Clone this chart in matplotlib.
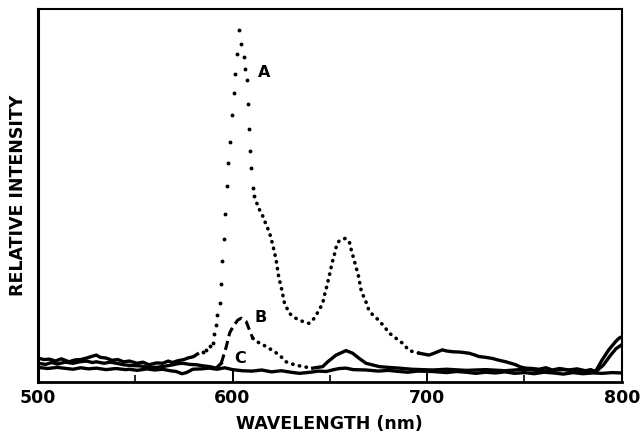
import matplotlib
matplotlib.use("Agg")
import matplotlib.pyplot as plt
from matplotlib.ticker import MultipleLocator

# curve A (relative units 0-100)
a_wl = [500, 503, 506, 509, 512, 516, 519, 522, 525, 528, 530, 532, 535, 538,
        541, 544, 547, 551, 554, 557, 561, 564, 567, 569, 572, 575, 577, 580,
        582, 584.8, 586.5, 588.2, 589.9, 590.4, 591.6, 591.9, 593.3, 594.2,
        594.7, 595.5, 596.3, 596.9, 597.9, 598.8, 599.8, 600.5, 601.2, 602.2,
        603.4, 604.2, 605.8, 606.5, 607.2, 608.1, 608.6, 609.2, 609.6, 610.3,
        610.9, 612.5, 614, 615.5, 617, 619, 620.7, 622.4, 623.7, 625.3, 626.7,
        629.2, 632, 634.4, 637, 639.5, 642, 644.5, 646.3, 647.4, 648.6, 649.8,
        651.1, 652.5, 653.7, 655.4, 658, 660, 661, 662.2, 663.4, 664.8, 666.2,
        668.2, 670, 672, 675, 678, 680.5, 684, 687.3, 690.8, 695.9, 701, 704,
        707.8, 710, 713, 717, 721.5, 724, 726.7, 730, 733.5, 737, 740.4, 743,
        745.5, 748, 750.6, 754, 757.4, 761, 764.3, 768, 772.8, 777, 781.4, 784,
        786.5, 789.9, 793.3, 796.8, 798.5, 800]
a_val = [6.4, 6.0, 6.1, 5.6, 6.2, 5.4, 5.9, 6.0, 6.4, 6.9, 7.2, 6.6, 6.4, 5.8,
         6.0, 5.4, 5.6, 5.0, 5.3, 4.6, 5.1, 5.0, 5.6, 5.2, 5.7, 6.0, 6.4, 6.8,
         7.5, 7.9, 8.6, 9.6, 10.4, 12.8, 15.3, 18.0, 21.1, 26.3,
         32.5, 38.3, 45.0, 52.6, 58.8, 64.4, 71.7, 77.5, 82.6, 87.9,
         94.4, 90.7, 87.1, 84.0, 81.0, 74.5, 67.8, 62.0, 57.5, 52.1,
         49.9, 47.9, 46.0, 44.5, 42.5, 40.0, 36.7, 32.7, 28.2, 24.7, 21.1,
         18.4, 17.2, 16.6, 16.0, 15.7, 17.1, 19.3, 21.1, 23.6, 26.0, 28.7,
         31.8, 34.5, 37.2, 38.1, 38.5, 37.6, 35.4, 33.2, 30.9, 28.2, 24.2,
         22.0, 19.3, 18.0, 16.6, 14.8, 13.1, 11.7, 10.4, 8.4, 7.7, 7.2, 7.8,
         8.6, 8.3, 8.1, 8.0, 7.7, 7.3, 6.8, 6.6, 6.3, 5.8, 5.4, 5.0,
         4.6, 4.0, 3.7, 3.6, 3.4, 3.8, 3.2, 3.6, 3.2, 3.5, 3.0, 3.3,
         2.8, 5.9, 8.6, 10.8, 11.7, 12.1]

# curve B
b_wl = [500, 504, 507, 510, 514, 518, 521.5, 525, 528, 530, 534, 537, 540.4,
        544, 548, 552.3, 556, 560.9, 565, 569.4, 572, 574.5, 578, 581.4, 585,
        588.2, 591.6, 594.2, 596.8, 598.5, 600.2, 602.7, 604.5, 607.0, 608.7,
        610.4, 613.8, 617.3, 621.5, 624.1, 627.5, 631.8, 636.1, 641.2, 646.3,
        648.9, 653.2, 658.3, 661.7, 665.1, 668.6, 675.4, 680, 685.6, 692,
        702.7, 710, 720, 730, 740, 750, 760, 770, 780, 787, 790.5, 794, 797, 800]
b_val = [5.0, 4.7, 5.2, 4.8, 5.3, 5.0, 5.4, 5.6, 5.2, 5.4, 5.0, 5.3, 5.0,
         4.6, 4.4, 4.3, 4.0, 3.9, 4.2, 4.6, 4.9, 5.0, 4.7, 4.6, 4.3,
         4.1, 3.7, 5.0, 9.5, 13.1, 14.8, 16.6, 17.1, 16.2, 13.9,
         11.7, 10.4, 9.5, 8.1, 7.2, 5.4, 4.6, 4.1, 3.7, 4.1,
         5.4, 7.2, 8.4, 7.7, 6.3, 5.0, 4.1, 3.9, 3.7, 3.4,
         3.2, 3.4, 3.1, 3.3, 3.0, 3.4, 2.9, 3.3, 2.8, 2.9, 4.5, 7.0, 8.9, 10.0]

# curve C
c_wl = [500, 505, 510, 513, 518, 522, 526, 530, 535, 540, 545, 547, 551, 556,
        560, 564, 568, 571, 574, 576.3, 579.6, 584, 588, 592, 596, 600, 605,
        610, 615, 620, 625, 630, 634.4, 640, 644, 648.1, 652, 655, 658.3, 662,
        668.6, 675, 680, 685.6, 690, 695, 702.7, 710, 715, 720, 725, 730, 735,
        740, 745, 750, 755, 760, 765, 770, 775, 780, 785, 790, 795, 800]
c_val = [3.9, 3.6, 3.9, 3.7, 3.4, 3.8, 3.5, 3.7, 3.3, 3.6, 3.3, 3.4, 3.1, 3.5,
         3.2, 3.4, 3.0, 2.8, 2.2, 2.5, 3.4, 3.5, 3.7, 3.4, 3.8, 3.3, 3.0,
         2.9, 3.2, 2.7, 3.0, 2.6, 2.3, 2.6, 2.9, 2.8, 3.3, 3.6, 3.7, 3.3,
         3.2, 2.9, 3.1, 2.8, 2.6, 2.9, 2.8, 2.5, 2.8, 2.6, 2.3, 2.6, 2.4,
         2.7, 2.3, 2.5, 2.2, 2.6, 2.4, 2.1, 2.5, 2.2, 2.4, 2.3, 2.5, 2.4]

x_ticks = [500, 600, 700, 800]


def pick(wl, val, lo, hi):
    xs, ys = [], []
    for w, v in zip(wl, val):
        if lo <= w <= hi:
            xs.append(w)
            ys.append(v)
    return xs, ys


fig = plt.figure(figsize=(6.43, 4.34), dpi=100)
ax = fig.add_axes([0.059, 0.12, 0.908, 0.859])

lw = 2.4
dotted = (0, (0.1, 1.8))

# A: solid at the ends, dots in the steep part, dense dots in the middle
x, y = pick(a_wl, a_val, 500, 582)
ax.plot(x, y, color='black', lw=lw)
x, y = pick(a_wl, a_val, 584, 612)
ax.plot(x, y, 'o', color='black', ms=2.8, mew=0)
x, y = pick(a_wl, a_val, 612, 696)
ax.plot(x, y, color='black', lw=2.6, ls=dotted, dash_capstyle='round')
x, y = pick(a_wl, a_val, 695, 800)
ax.plot(x, y, color='black', lw=lw)

# B: solid baseline, dashed rise, dotted fall
x, y = pick(b_wl, b_val, 500, 594.2)
ax.plot(x, y, color='black', lw=lw)
x, y = pick(b_wl, b_val, 594.2, 610.4)
ax.plot(x, y, color='black', lw=2.2, ls=(0, (3, 1.6)))
x, y = pick(b_wl, b_val, 610.4, 641.2)
ax.plot(x, y, color='black', lw=2.6, ls=dotted, dash_capstyle='round')
x, y = pick(b_wl, b_val, 641.2, 800)
ax.plot(x, y, color='black', lw=lw)

# C
ax.plot(c_wl, c_val, color='black', lw=lw)

ax.text(616, 83, 'A', fontsize=11.5, fontweight='bold', ha='center', va='center')
ax.text(614.5, 17.3, 'B', fontsize=11.5, fontweight='bold', ha='center', va='center')
ax.text(604, 6.4, 'C', fontsize=11.5, fontweight='bold', ha='center', va='center')

ax.set_xlim(500, 800)
ax.set_ylim(0, 100)
ax.set_xticks(x_ticks)
ax.xaxis.set_minor_locator(MultipleLocator(50))
ax.tick_params(axis='x', which='major', direction='in', length=8, width=1.4,
               labelsize=12.5, pad=5)
ax.tick_params(axis='x', which='minor', direction='in', length=5, width=1.2)
for lab in ax.get_xticklabels():
    lab.set_fontweight('bold')
ax.set_yticks([])

for side, w in [('left', 2.2), ('bottom', 2.0), ('right', 1.5), ('top', 1.5)]:
    ax.spines[side].set_linewidth(w)

ax.set_xlabel('WAVELENGTH (nm)', fontsize=12.5, fontweight='bold', labelpad=6)
ax.set_ylabel('RELATIVE INTENSITY', fontsize=12.5, fontweight='bold', labelpad=8)

fig.savefig('out.png', dpi=100)
